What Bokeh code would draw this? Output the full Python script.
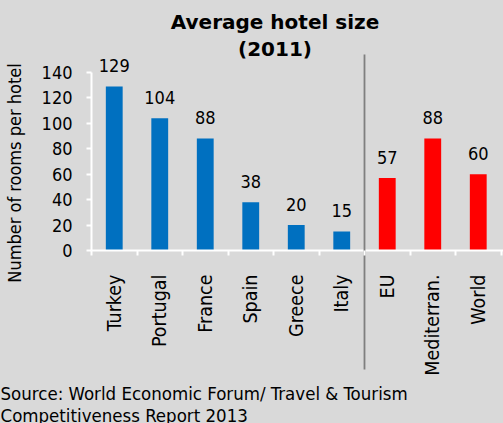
import math
from bokeh.plotting import figure
from bokeh.models import (Range1d, LinearAxis, FixedTicker, Label,
                          ColumnDataSource)
from bokeh.core.properties import value
from bokeh.embed import file_html
from bokeh.resources import INLINE

# ---- data ----
categories = ["Turkey", "Portugal", "France", "Spain", "Greece", "Italy",
              "EU", "Mediterran.", "World"]
values = [129, 104, 88, 38, 20, 15, 57, 88, 60]
groups = ["country", "country", "country", "country", "country", "country",
          "aggregate", "aggregate", "aggregate"]
group_colors = {"country": "#0070c0", "aggregate": "#ff0000"}
y_ticks = [0, 20, 40, 60, 80, 100, 120, 140]
title_lines = ["Average hotel size", "(2011)"]
y_label = "Number of rooms per hotel"
source_lines = ["Source: World Economic Forum/ Travel & Tourism",
                "Competitiveness Report 2013"]

BG = "#d9d9d9"
FONT = "DejaVu Sans Condensed"
BOLD_FONT = "DejaVu Sans"
W, H = 503, 423

# layout (pixels): the plot area is the whole canvas; axes sit at fixed spots
X0_PX, CAT_PX = 91.0, 45.5          # left edge of first category, category width
Y0_PX, UNIT_PX = 250.0, 178.0 / 140  # pixel row of value 0, pixels per unit
SEP_TOP_PX, SEP_BOT_PX = 54.0, 369.0

n = len(categories)
centers = [i + 0.5 for i in range(n)]
bounds = list(range(n + 1))
src = ColumnDataSource(dict(x=centers, val=values,
                            color=[group_colors[g] for g in groups],
                            lab=[str(v) for v in values]))

x_range = Range1d(-X0_PX / CAT_PX, (W - X0_PX) / CAT_PX)
y_range = Range1d(-(H - Y0_PX) / UNIT_PX, Y0_PX / UNIT_PX)

p = figure(width=W, height=H, x_range=x_range, y_range=y_range,
           x_axis_location=None, y_axis_location=None,
           output_backend="svg", toolbar_location=None,
           min_border=0, min_border_left=0, min_border_right=0,
           min_border_top=0, min_border_bottom=0)
p.background_fill_color = BG
p.border_fill_color = BG
p.outline_line_color = None
p.xgrid.grid_line_color = None
p.ygrid.grid_line_color = None

# bars
p.vbar(x="x", top="val", width=0.37, source=src, line_color=None,
       fill_color="color")

# value labels
p.text(x="x", y="val", text="lab", source=src, text_align="center",
       text_baseline="alphabetic", y_offset=-21, text_font=value(FONT),
       text_font_size="18px", text_color="black")

# axis lines
p.segment(x0=[0], y0=[y_ticks[0]], x1=[0], y1=[y_ticks[-1]],
          line_color="white", line_width=2)
p.segment(x0=[0], y0=[0], x1=[x_range.end], y1=[0],
          line_color="white", line_width=2)

# y axis
ya = LinearAxis(ticker=FixedTicker(ticks=y_ticks), fixed_location=0)
ya.axis_line_color = None
ya.major_tick_line_color = "white"
ya.major_tick_line_width = 2
ya.major_tick_out = 5
ya.major_tick_in = 0
ya.minor_tick_line_color = None
ya.major_label_standoff = 14
ya.major_label_text_font = FONT
ya.major_label_text_font_size = "18px"
ya.major_label_text_color = "black"
p.add_layout(ya, "left")

# x axis: category labels at centres, tick marks between categories
xa = LinearAxis(ticker=FixedTicker(ticks=centers, minor_ticks=bounds),
                fixed_location=0,
                major_label_overrides={c: name for c, name in zip(centers, categories)})
xa.axis_line_color = None
xa.major_tick_line_color = None
xa.major_tick_out = 0
xa.major_tick_in = 0
xa.minor_tick_line_color = "white"
xa.minor_tick_line_width = 2
xa.minor_tick_out = 5
xa.minor_tick_in = 0
xa.major_label_orientation = math.pi / 2
xa.major_label_standoff = 19
xa.major_label_text_font = FONT
xa.major_label_text_font_size = "19.5px"
xa.major_label_text_color = "black"
p.add_layout(xa, "below")

# separator between countries and aggregates
sep_x = groups.count("country")
p.segment(x0=[sep_x], x1=[sep_x],
          y0=[(Y0_PX - SEP_TOP_PX) / UNIT_PX], y1=[(Y0_PX - SEP_BOT_PX) / UNIT_PX],
          line_color="#7f7f7f", line_width=1.8)

# title
for txt, base_px in zip(title_lines, [21.5, 48.0]):
    p.add_layout(Label(x=274.5, y=H - base_px, x_units="screen", y_units="screen",
                       text=txt, text_align="center", text_color="black",
                       text_baseline="alphabetic", text_font=BOLD_FONT,
                       text_font_style="bold", text_font_size="20px"))

# y axis label
p.add_layout(Label(x=14, y=H - 172.5, x_units="screen", y_units="screen",
                   text=y_label, angle=math.pi / 2, text_align="center",
                   text_baseline="middle", text_font=FONT, text_color="black",
                   text_font_size="18px"))

# source
for txt, base_px in zip(source_lines, [392.5, 414.5]):
    p.add_layout(Label(x=0, y=H - base_px, x_units="screen", y_units="screen",
                       text=txt, text_align="left", text_color="black",
                       text_baseline="alphabetic", text_font=FONT,
                       text_font_size="18.5px"))

html = file_html(p, INLINE)
html = html.replace("<body>", '<body style="background-color:%s;">' % BG)
open("out.html", "w").write(html)
